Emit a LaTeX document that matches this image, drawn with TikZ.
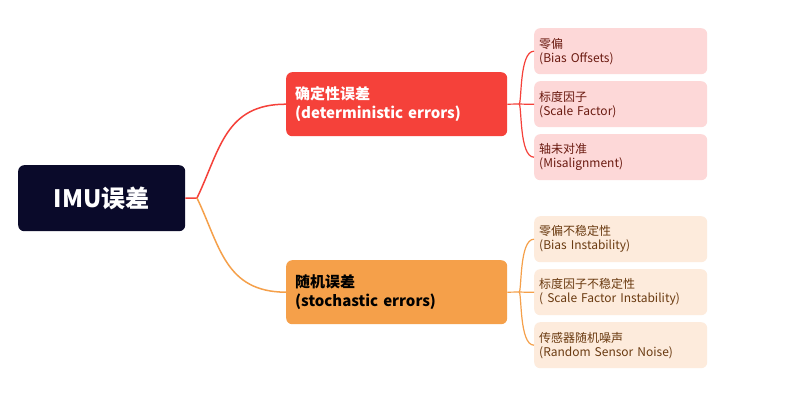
\documentclass[tikz,border=0pt]{standalone}
\usepackage{fontspec}
\setmainfont{Noto Sans CJK SC}
\begin{document}
\begin{tikzpicture}[x=1pt,y=-1pt,
  box/.style={rounded corners=6pt,inner sep=0pt,anchor=north west},
  leaf/.style={box,minimum width=173pt,minimum height=46pt,font=\fontsize{12}{14}\selectfont,align=left,text width=163pt},
  rl/.style={draw=red!75!black,line width=1.2pt},
]
\definecolor{navy}{HTML}{0A0A2A}
\definecolor{rd}{HTML}{F5413A}
\definecolor{og}{HTML}{F5A04A}
\definecolor{rlf}{HTML}{FDD8D8}
\definecolor{olf}{HTML}{FDEBDC}
\definecolor{rtx}{HTML}{6A1A10}
\definecolor{otx}{HTML}{6A3A10}
\useasboundingbox (0,0) rectangle (797,413);
\fill[white] (0,0) rectangle (797,413);
\node[box,fill=navy,minimum width=167pt,minimum height=66pt,text=white,font=\bfseries\fontsize{24}{28}\selectfont] (root) at (18,165) {IMU误差};
\node[box,fill=rd,minimum width=221pt,minimum height=64pt,text=white,font=\bfseries\fontsize{15}{19}\selectfont,align=left,text width=203pt] (b1) at (286,72) {确定性误差\\(deterministic errors)};
\node[box,fill=og,minimum width=221pt,minimum height=64pt,text=black,font=\bfseries\fontsize{15}{19}\selectfont,align=left,text width=203pt] (b2) at (286,260) {随机误差\\(stochastic errors)};
\node[leaf,fill=rlf,text=rtx] (l1) at (534,28) {零偏\\(Bias Offsets)};
\node[leaf,fill=rlf,text=rtx] (l2) at (534,81) {标度因子\\(Scale Factor)};
\node[leaf,fill=rlf,text=rtx] (l3) at (534,134) {轴未对准\\(Misalignment)};
\node[leaf,fill=olf,text=otx] (l4) at (534,216) {零偏不稳定性\\(Bias Instability)};
\node[leaf,fill=olf,text=otx] (l5) at (534,269) {标度因子不稳定性\\( Scale Factor Instability)};
\node[leaf,fill=olf,text=otx] (l6) at (534,322) {传感器随机噪声\\(Random Sensor Noise)};
\coordinate (r0) at (197,198);
\draw[rd,line width=1.5pt] (root.east) -- (r0) .. controls (220,150) and (225,104) .. (b1.west);
\draw[og,line width=1.5pt] (r0) .. controls (220,246) and (225,292) .. (b2.west);
\coordinate (j1) at (519,104);
\coordinate (j2) at (519,292);
\draw[rd,line width=1.2pt] (b1.east) -- (j1);
\draw[og,line width=1.2pt] (b2.east) -- (j2);
\foreach \l in {l1,l2,l3}{\draw[rd,line width=1.2pt] (j1) .. controls (522,104) and (519,0|-\l.west) .. ([xshift=0pt]\l.west);}
\foreach \l in {l4,l5,l6}{\draw[og,line width=1.2pt] (j2) .. controls (522,292) and (519,0|-\l.west) .. (\l.west);}
\end{tikzpicture}
\end{document}
